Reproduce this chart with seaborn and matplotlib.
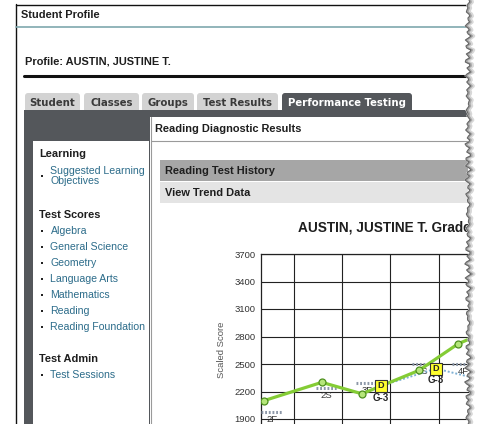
import numpy as np
import matplotlib
matplotlib.use("Agg")
import matplotlib.pyplot as plt
import seaborn as sns
from matplotlib.patches import Rectangle, FancyBboxPatch, Polygon

sns.set_style("white")
plt.rcParams['font.family'] = ['Liberation Sans', 'DejaVu Sans']

# --- chart data (x = position along the time axis, gridlines at whole numbers) ---
test_x = [0.38, 1.58, 2.41, 3.59, 4.40, 5.20]
test_score = [2100, 2300, 2175, 2430, 2720, 2900]

bench_labels = ["2F", "2S", "3F", "3S", "4F"]
bench_x = [0.55, 1.67, 2.51, 3.67, 4.50]
bench_score = [1980, 2240, 2290, 2500, 2500]

diag_x = [2.80, 3.94, 4.95]
diag_score = [2260, 2450, 2320]
diag_grade = ["G-3", "G-3", "G-3"]

y_ticks = [1900, 2200, 2500, 2800, 3100, 3400, 3700]

nav_sections = {
    "Learning": ["Suggested Learning\nObjectives"],
    "Test Scores": ["Algebra", "General Science", "Geometry", "Language Arts",
                    "Mathematics", "Reading", "Reading Foundation"],
    "Test Admin": ["Test Sessions"],
}
tabs = ["Student", "Classes", "Groups", "Test Results", "Performance Testing"]

W, H = 478, 424
fig = plt.figure(figsize=(W / 100, H / 100), dpi=100)

# page background in pixel coordinates
bg = fig.add_axes([0, 0, 1, 1])
bg.set_xlim(0, W)
bg.set_ylim(H, 0)
bg.axis('off')


def rect(x0, y0, x1, y1, color, **kw):
    bg.add_patch(Rectangle((x0, y0), x1 - x0, y1 - y0, color=color, lw=0, **kw))


def txt(x, y, s, px, **kw):
    kw.setdefault('va', 'center')
    kw.setdefault('color', '#1e1e1e')
    bg.text(x, y, s, fontsize=px * 0.72, **kw)


# outer frame + header
bg.plot([16, 468], [4.5, 4.5], color='#111', lw=1)
bg.plot([16.5, 16.5], [4, H], color='#111', lw=1)
bg.plot([16, 468], [26.5, 26.5], color='#7fa8ae', lw=1.2)
txt(21, 15, "Student Profile", 11, weight='bold')
txt(25, 61, "Profile: AUSTIN, JUSTINE T.", 11, weight='bold')
bg.plot([24, 468], [76, 76], color='#111', lw=2.2)

# tabs
tab_pos = [(25, 80), (84, 139), (142, 194), (197, 278), (282, 412)]
for name, (x0, x1) in zip(tabs, tab_pos):
    active = name == "Performance Testing"
    bg.add_patch(FancyBboxPatch((x0, 93), x1 - x0, 25,
                                boxstyle="round,pad=0,rounding_size=3",
                                color='#54575b' if active else '#d3d3d3', lw=0))
    bg.text((x0 + x1) / 2, 102.5, name, fontsize=7.3, weight='bold',
            family='DejaVu Sans', ha='center', va='center',
            color='white' if active else '#3a3a3a')

# dark panel and white areas
rect(24, 110, 468, H, '#54575b')
rect(33, 141, 149, H, 'white')
rect(150.5, 117, 468, H, 'white')
bg.plot([151.5, 151.5], [117, H], color='#9a9a9a', lw=0.8)
bg.plot([151, 468], [140.5, 140.5], color='#9a9a9a', lw=0.8)
txt(155, 129, "Reading Diagnostic Results", 11, weight='bold')

rect(160.5, 160, 468, 181, '#a6a6a6')
rect(160.5, 182, 468, 203, '#e4e4e4')
txt(165, 171, "Reading Test History", 11, weight='bold')
txt(165, 193, "View Trend Data", 11, weight='bold')

# left navigation
head_y = {"Learning": 154, "Test Scores": 215, "Test Admin": 359}
for head, items in nav_sections.items():
    y = head_y[head]
    txt(39, y, head, 11, weight='bold')
    y += 16
    for item in items:
        n = item.count("\n") + 1
        rect(41.5, y + 6 * (n - 1) - 1, 43.5, y + 6 * (n - 1) + 1, '#222')
        txt(50.5, y + 6 * (n - 1), item, 10.5, color='#2c6c8a', linespacing=1.05)
        y += 16 if n == 1 else 28

# chart title (cut by the torn edge, as in the screenshot)
txt(298, 227, "AUSTIN, JUSTINE T. Grade", 13.6, weight='bold')

# --- chart axes: 3700 at y=254 px, 1600 at y=446.5 px, x=0.32 at 261 px, 48.3 px per unit ---
x_lo, x_hi = 0.32, 6.0
x_visible = 4.6  # beyond this the page is torn off
ax_left = 261
ax_w = (x_hi - x_lo) * 48.3
ax_top, ax_bot = 254, 446.5
ax = fig.add_axes([ax_left / W, (H - ax_bot) / H, ax_w / W, (ax_bot - ax_top) / H])
ax.set_facecolor('none')
ax.set_xlim(x_lo, x_hi)
ax.set_ylim(1600, 3700)
ax.set_yticks(y_ticks)
ax.set_yticklabels([str(t) for t in y_ticks])
ax.set_xticks([1, 2, 3, 4, 5])
ax.tick_params(axis='x', length=0, labelbottom=False)
ax.tick_params(axis='y', length=3, width=0.8, color='#222', labelsize=6.8,
               labelcolor='#333', pad=1)
ax.grid(True, color='#222', lw=0.8)
for s in ax.spines.values():
    s.set_color('#222')
    s.set_linewidth(0.9)
ax.set_ylabel("Scaled Score", fontsize=6.8, color='#555', labelpad=6)

# benchmarks (hatched gray)
for lab, bx, by in zip(bench_labels, bench_x, bench_score):
    ax.plot([bx - 0.22, bx + 0.22], [by, by], color='#8d98a8', lw=2.2,
            ls=(0, (0.6, 0.6)), zorder=3)
    ax.text(bx, by - 35, lab, fontsize=6.8, color='#333', ha='center', va='top',
            zorder=4, clip_on=True)

# diagnostic path (dotted blue)
sns.lineplot(x=diag_x, y=diag_score, ax=ax, color='#7fb0d4', lw=1.4,
             linestyle=(0, (1, 1)), zorder=4, sort=False)

# test scores (green line)
sns.lineplot(x=test_x, y=test_score, ax=ax, color='#84cc35', lw=2.3, marker='o',
             markersize=5, markerfacecolor='#b5e67a', markeredgecolor='#4d8f1e',
             markeredgewidth=0.9, zorder=5, sort=False)

ax.scatter(diag_x, diag_score, marker='s', s=66, color='#ffff2e',
           edgecolor='#333', linewidth=0.8, zorder=6)
for dx, dy, g in zip(diag_x, diag_score, diag_grade):
    if dx > x_visible:
        continue
    ax.text(dx, dy, "D", fontsize=6.6, weight='bold', ha='center', va='center',
            zorder=7, clip_on=True)
    ax.text(dx, dy - 75, g, fontsize=7, weight='bold', ha='center', va='top',
            zorder=7, clip_on=True)

# torn right edge
top = fig.add_axes([0, 0, 1, 1])
top.set_facecolor('none')
top.set_xlim(0, W)
top.set_ylim(H, 0)
top.axis('off')
ys = np.arange(0, H + 2, 2.0)
edge = 467 + 1.6 * np.sin(ys * 0.9) + 1.1 * np.sin(ys * 0.37 + 1.3) + 0.8 * np.sin(ys * 2.3)
top.add_patch(Polygon(np.column_stack([np.r_[edge, W, W], np.r_[ys, ys[-1], 0]]),
                      closed=True, color='white', lw=0))
for off, c, w in [(3.5, '#d8d8d8', 2.5), (2.2, '#a8a8a8', 1.4), (1.0, '#666', 0.8)]:
    top.plot(edge + off, ys, color=c, lw=w)

fig.savefig("out.png", dpi=100)
